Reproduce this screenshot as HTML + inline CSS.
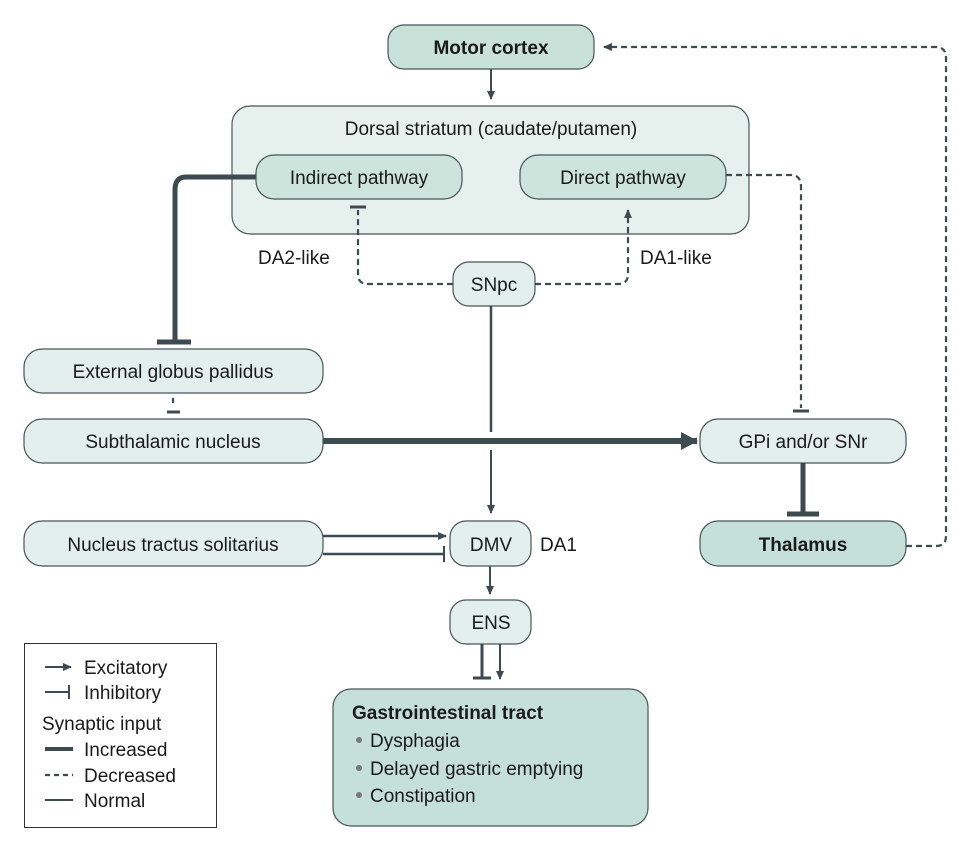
<!DOCTYPE html>
<html><head><meta charset="utf-8"><style>
body{margin:0;background:#fff}
svg{display:block;font-family:"Liberation Sans",sans-serif}
text{fill:#1a1a1a;font-size:19px}
</style></head><body>
<svg width="980" height="853" viewBox="0 0 980 853">
<defs>
<marker id="a" markerWidth="10" markerHeight="10" refX="8" refY="5" orient="auto" markerUnits="userSpaceOnUse"><path d="M0,1 L9,5 L0,9 Z" fill="#3d4a50"/></marker>
<marker id="ab" markerWidth="20" markerHeight="20" refX="16" refY="10" orient="auto" markerUnits="userSpaceOnUse"><path d="M0,1 L17,10 L0,19 Z" fill="#3d4a50"/></marker>
</defs>
<g stroke="#4a5458" stroke-width="1.2">
<rect x="232" y="106" width="517" height="128" rx="18" fill="#e6f1ee"/>
<rect x="388" y="25" width="206" height="44" rx="16" fill="#c8e2da"/>
<rect x="256" y="155" width="206" height="44" rx="18" fill="#cde4dd"/>
<rect x="520" y="155" width="206" height="44" rx="18" fill="#cde4dd"/>
<rect x="453" y="262" width="82" height="44" rx="16" fill="#e3efec"/>
<rect x="24" y="349" width="299" height="44" rx="18" fill="#e3efec"/>
<rect x="24" y="419" width="299" height="44" rx="18" fill="#e3efec"/>
<rect x="700" y="419" width="206" height="44" rx="18" fill="#e3efec"/>
<rect x="24" y="521" width="299" height="45" rx="18" fill="#e3efec"/>
<rect x="450" y="521" width="81" height="45" rx="16" fill="#e3efec"/>
<rect x="700" y="521" width="206" height="45" rx="18" fill="#c5e0d8"/>
<rect x="450" y="600" width="81" height="44" rx="16" fill="#e3efec"/>
<rect x="333" y="689" width="315" height="137" rx="18" fill="#c5e0d8"/>
</g>
<rect x="24.5" y="643.5" width="192" height="184" fill="#fff" stroke="#333" stroke-width="1"/>
<g stroke="#3d4a50" fill="none">
<line x1="491" y1="69" x2="491" y2="99" stroke-width="2" marker-end="url(#a)"/>
<path d="M256,177 L186,177 Q175,177 175,190 L175,342" stroke-width="5"/>
<line x1="157" y1="342" x2="191" y2="342" stroke-width="5"/>
<path d="M453,284 L368,284 Q358,284 358,274 L358,210" stroke-width="2.2" stroke-dasharray="6,4"/>
<line x1="350" y1="207" x2="366" y2="207" stroke-width="3"/>
<path d="M535,284 L618,284 Q628,284 628,274 L628,210" stroke-width="2.2" stroke-dasharray="6,4" marker-end="url(#a)"/>
<path d="M726,175 L791,175 Q801,175 801,187 L801,408" stroke-width="2.2" stroke-dasharray="6,4"/>
<line x1="793" y1="411" x2="809" y2="411" stroke-width="3"/>
<line x1="173" y1="398" x2="173" y2="407" stroke-width="2.2" stroke-dasharray="5,4"/>
<line x1="167" y1="412" x2="180" y2="412" stroke-width="3"/>
<line x1="323" y1="441" x2="697" y2="441" stroke-width="6" marker-end="url(#ab)"/>
<line x1="491" y1="306" x2="491" y2="432" stroke-width="2.5"/>
<line x1="491" y1="450" x2="491" y2="513" stroke-width="2" marker-end="url(#a)"/>
<line x1="803" y1="463" x2="803" y2="513" stroke-width="5"/>
<line x1="787" y1="514" x2="819" y2="514" stroke-width="5"/>
<path d="M906,546 L936,546 Q946,546 946,536 L946,58 Q946,47 936,47 L604,47" stroke-width="2.2" stroke-dasharray="6,4" marker-end="url(#a)"/>
<line x1="323" y1="536" x2="446" y2="536" stroke-width="2.5" marker-end="url(#a)"/>
<line x1="323" y1="554" x2="444" y2="554" stroke-width="2.5"/>
<line x1="444" y1="546" x2="444" y2="562" stroke-width="2"/>
<line x1="490" y1="566" x2="490" y2="594" stroke-width="2" marker-end="url(#a)"/>
<line x1="482" y1="644" x2="482" y2="678" stroke-width="3"/>
<line x1="473" y1="678" x2="491" y2="678" stroke-width="3"/>
<line x1="500" y1="644" x2="500" y2="679" stroke-width="2" marker-end="url(#a)"/>
<line x1="45" y1="667" x2="71" y2="667" stroke-width="2" marker-end="url(#a)"/>
<line x1="45" y1="692" x2="69" y2="692" stroke-width="2"/>
<line x1="69" y1="685" x2="69" y2="699" stroke-width="2"/>
<line x1="45" y1="749" x2="73" y2="749" stroke-width="4"/>
<line x1="45" y1="775" x2="73" y2="775" stroke-width="2.2" stroke-dasharray="5,4"/>
<line x1="45" y1="800" x2="73" y2="800" stroke-width="2"/>
</g>
<g text-anchor="middle">
<text x="491" y="54" font-weight="bold">Motor cortex</text>
<text x="491" y="135">Dorsal striatum (caudate/putamen)</text>
<text x="359" y="184">Indirect pathway</text>
<text x="623" y="184">Direct pathway</text>
<text x="494" y="291">SNpc</text>
<text x="173" y="378">External globus pallidus</text>
<text x="173" y="448">Subthalamic nucleus</text>
<text x="803" y="448">GPi and/or SNr</text>
<text x="173" y="551">Nucleus tractus solitarius</text>
<text x="491" y="551">DMV</text>
<text x="803" y="551" font-weight="bold">Thalamus</text>
<text x="491" y="629">ENS</text>
</g>
<text x="258" y="264">DA2-like</text>
<text x="640" y="264">DA1-like</text>
<text x="540" y="551">DA1</text>
<text x="352" y="719" font-weight="bold">Gastrointestinal tract</text>
<g fill="#777"><circle cx="359" cy="740" r="3"/><circle cx="359" cy="768" r="3"/><circle cx="359" cy="795" r="3"/></g>
<text x="370" y="747">Dysphagia</text>
<text x="370" y="775">Delayed gastric emptying</text>
<text x="370" y="802">Constipation</text>
<text x="84" y="674">Excitatory</text>
<text x="84" y="699">Inhibitory</text>
<text x="42" y="730">Synaptic input</text>
<text x="84" y="756">Increased</text>
<text x="84" y="782">Decreased</text>
<text x="84" y="807">Normal</text>
</svg>
</body></html>
